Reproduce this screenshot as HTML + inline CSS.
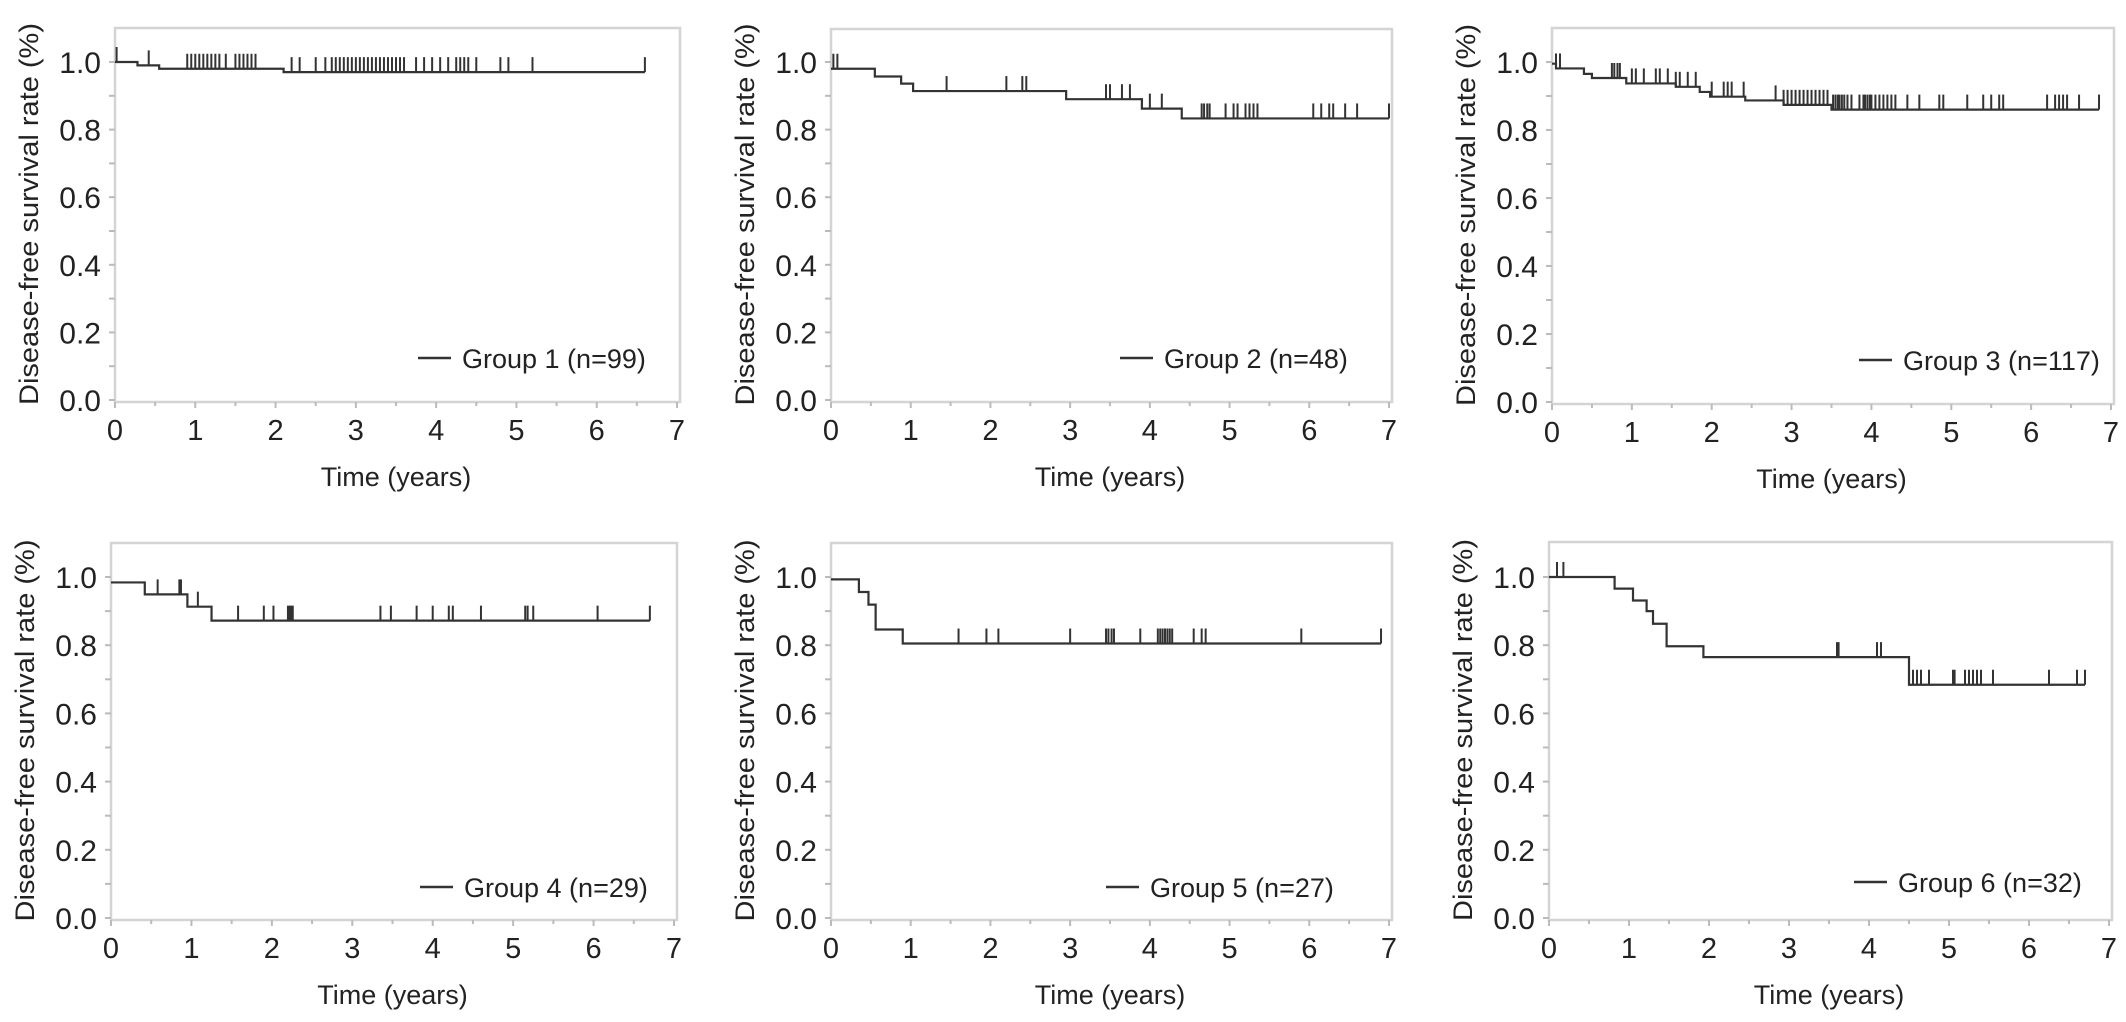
<!DOCTYPE html>
<html><head><meta charset="utf-8"><style>
html,body{margin:0;padding:0;background:#fff;}
svg{display:block;font-family:"Liberation Sans",Arial,sans-serif;}
</style></head><body>
<svg id="fig" width="2126" height="1022" viewBox="0 0 2126 1022" xmlns="http://www.w3.org/2000/svg"></svg>
<script>
// ---- data ----
const xTicks = [0,1,2,3,4,5,6,7];
const yTicks = ["0.0","0.2","0.4","0.6","0.8","1.0"];
const groupNames = ["Group 1 (n=99)","Group 2 (n=48)","Group 3 (n=117)","Group 4 (n=29)","Group 5 (n=27)","Group 6 (n=32)"];

const g1Times = [0,0.28,0.55,2.1];
const g1Surv = [1.0,0.99,0.98,0.97];
const g1Censor = [0.02,0.42,0.9,0.95,1.0,1.05,1.1,1.15,1.2,1.25,1.3,1.38,1.5,1.55,1.6,1.65,1.7,1.75,2.2,2.3,2.5,2.62,2.7,2.75,2.8,2.85,2.9,2.95,3.0,3.05,3.1,3.15,3.2,3.25,3.3,3.35,3.4,3.45,3.5,3.55,3.6,3.75,3.85,3.95,4.05,4.15,4.25,4.3,4.35,4.4,4.5,4.8,4.9,5.2,6.6];
const g1End = 6.6;

const g2Times = [0,0.55,0.88,1.03,2.95,3.9,4.4];
const g2Surv = [0.98,0.957,0.936,0.914,0.89,0.862,0.833];
const g2Censor = [0.03,0.08,1.45,2.2,2.4,2.45,3.45,3.5,3.65,3.75,4.0,4.15,4.65,4.68,4.72,4.75,4.95,5.05,5.1,5.2,5.25,5.3,5.35,6.05,6.15,6.25,6.3,6.45,6.6,7.0];
const g2End = 7.0;

const g3Times = [0,0.05,0.4,0.5,0.93,1.55,1.85,1.98,2.42,2.9,3.5];
const g3Surv = [0.995,0.981,0.965,0.953,0.937,0.927,0.912,0.898,0.887,0.874,0.86];
const g3Censor = [0.05,0.1,0.75,0.78,0.82,0.85,1.0,1.05,1.15,1.3,1.35,1.45,1.55,1.6,1.7,1.8,2.0,2.15,2.2,2.25,2.4,2.8,2.9,2.95,3.0,3.05,3.1,3.15,3.2,3.25,3.3,3.35,3.4,3.45,3.52,3.55,3.58,3.6,3.63,3.66,3.7,3.75,3.85,3.9,3.92,3.95,3.98,4.0,4.05,4.1,4.15,4.2,4.25,4.3,4.45,4.6,4.85,4.9,5.2,5.4,5.5,5.6,5.65,6.2,6.3,6.35,6.4,6.45,6.6,6.85];
const g3End = 6.85;

const g4Times = [0,0.42,0.95,1.25];
const g4Surv = [0.984,0.949,0.913,0.872];
const g4Censor = [0.58,0.85,0.87,1.08,1.58,1.9,2.02,2.2,2.22,2.24,2.26,3.35,3.48,3.8,4.0,4.2,4.25,4.6,5.15,5.18,5.25,6.05,6.7];
const g4End = 6.7;

const g5Times = [0,0.35,0.47,0.56,0.9];
const g5Surv = [0.993,0.956,0.919,0.846,0.805];
const g5Censor = [1.6,1.95,2.1,3.0,3.45,3.48,3.52,3.55,3.88,4.1,4.13,4.16,4.19,4.22,4.25,4.28,4.55,4.65,4.7,5.9,6.9];
const g5End = 6.9;

const g6Times = [0,0.82,1.05,1.22,1.3,1.47,1.93,4.5];
const g6Surv = [1.0,0.966,0.931,0.9,0.863,0.797,0.765,0.684];
const g6Censor = [0.1,0.18,3.6,3.62,4.1,4.15,4.55,4.6,4.65,4.75,5.05,5.07,5.2,5.25,5.3,5.35,5.4,5.55,6.25,6.6,6.7];
const g6End = 6.7;

// ---- layout ----
const panels = [
 {xl:115,xr:677,y0:400,y1:62,top:28,legX:418,legY:358,series:[g1Times,g1Surv,g1Censor,g1End]},
 {xl:831,xr:1389,y0:400,y1:62,top:29,legX:1120,legY:358,series:[g2Times,g2Surv,g2Censor,g2End]},
 {xl:1552,xr:2111,y0:402,y1:62,top:28,legX:1859,legY:360,series:[g3Times,g3Surv,g3Censor,g3End]},
 {xl:111,xr:674,y0:918,y1:577,top:543,legX:420,legY:887,series:[g4Times,g4Surv,g4Censor,g4End]},
 {xl:831,xr:1389,y0:918,y1:577,top:543,legX:1106,legY:887,series:[g5Times,g5Surv,g5Censor,g5End]},
 {xl:1549,xr:2109,y0:918,y1:577,top:542,legX:1854,legY:882,series:[g6Times,g6Surv,g6Censor,g6End]}
];
const NS="http://www.w3.org/2000/svg";
const svg=document.getElementById('fig');
function mk(tag,attrs,parent){const e=document.createElementNS(NS,tag);for(const k in attrs)e.setAttribute(k,attrs[k]);(parent||svg).appendChild(e);return e;}

panels.forEach((p,i)=>{
  const sx=v=>p.xl+(p.xr-p.xl)*v/7;
  const sy=v=>p.y0-(p.y0-p.y1)*v;
  const g=mk('g',{});
  
  
  const fr=mk('rect',{x:p.xl,y:p.top,width:(p.xr+3)-p.xl,height:(p.y0+2)-p.top,fill:'none',stroke:'#d4d4d4','stroke-width':2.5},g);
  
  
  // x ticks
  for(let k=0;k<=14;k++){
    const t=mk('line',{x1:sx(k/2),x2:sx(k/2),y1:p.y0+2,y2:p.y0+(k%2?6:8),stroke:'#bbb','stroke-width':2},g);
    
    
  }
  xTicks.forEach(v=>{
    const t=mk('text',{x:sx(v),y:p.y0+40,'font-size':29,'text-anchor':'middle',fill:'#222'},g);
    t.textContent=v;
    
    
  });
  // y ticks
  for(let k=0;k<=10;k++){
    const t=mk('line',{x1:p.xl-6,x2:p.xl,y1:sy(k/10),y2:sy(k/10),stroke:'#bbb','stroke-width':2},g);
    
    
  }
  yTicks.forEach((s,k)=>{
    const t=mk('text',{x:p.xl-14,y:sy(k*0.2)+11,'font-size':30,'text-anchor':'end',fill:'#222'},g);
    t.textContent=s;
    
    
  });
  // titles
  const cy=(p.top+p.y0)/2, tx=p.xl-86;
  const yt=mk('text',{x:tx,y:cy,'font-size':27,'text-anchor':'middle',fill:'#222',transform:`rotate(-90 ${tx} ${cy})`,dy:9,textLength:382,lengthAdjust:'spacingAndGlyphs'},g);
  yt.textContent='Disease-free survival rate (%)';
  
  
  const xt=mk('text',{x:(p.xl+p.xr)/2,y:p.y0+86,'font-size':27,'text-anchor':'middle',fill:'#222'},g);
  xt.textContent='Time (years)';
  
  
  // curve
  const [T,S,C,E]=p.series;
  let d=`M${sx(T[0])},${sy(S[0])}`;
  for(let k=1;k<T.length;k++){d+=` H${sx(T[k])} V${sy(S[k])}`;}
  d+=` H${sx(E)}`;
  const path=mk('path',{d:d,fill:'none',stroke:'#333','stroke-width':2.2},g);
  
  
  const survAt=t=>{let s=S[0];for(let k=0;k<T.length;k++){if(T[k]<=t)s=S[k];}return s;};
  C.forEach(t=>{
    const yy=sy(survAt(t));
    const m=mk('line',{x1:sx(t),x2:sx(t),y1:yy,y2:yy-15,stroke:'#333','stroke-width':2},g);
    
    
  });
  // legend
  const ll=mk('line',{x1:p.legX,x2:p.legX+33,y1:p.legY,y2:p.legY,stroke:'#333','stroke-width':2.5},g);
  
  
  const lt=mk('text',{x:p.legX+44,y:p.legY+10,'font-size':27,fill:'#222'},g);
  lt.textContent=groupNames[i];
  
  
});
</script>
</body></html>
